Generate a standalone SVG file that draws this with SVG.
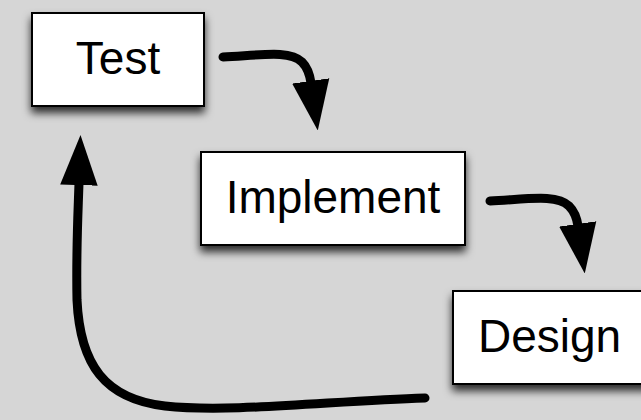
<svg xmlns="http://www.w3.org/2000/svg" width="641" height="420" viewBox="0 0 641 420">
  <style>
    .box { fill: #ffffff; stroke: #000000; stroke-width: 2; filter: url(#shadow); }
    .label { font-family: "Liberation Sans", Arial, sans-serif; font-size: 46px; fill: #000000; }
    .conn { fill: none; stroke: #000000; stroke-width: 9; stroke-linecap: round; }
  </style>
  <defs>
    <filter id="shadow" x="-20%" y="-20%" width="140%" height="160%">
      <feDropShadow dx="0" dy="6" stdDeviation="4.5" flood-color="#000000" flood-opacity="0.8"/>
    </filter>
    <marker id="head" markerUnits="userSpaceOnUse" markerWidth="50" markerHeight="40" viewBox="0 -18 48 36" refX="2" refY="0" orient="auto">
      <path d="M0,-18 L48,0 L0,18 Z" fill="#000000"/>
    </marker>
  </defs>
  <rect width="641" height="420" fill="#d6d6d6"/>
  <g id="connectors">
    <path class="conn" marker-end="url(#head)" d="M223,57 C262,55 290,50 302,62 C308,68 310,76 311,83"/>
    <path class="conn" marker-end="url(#head)" d="M490,201 C529,199 557,194 569,206 C575,212 577,219 578,226"/>
    <path class="conn" marker-end="url(#head)" d="M425,398 C330,401 230,413 165,406 C105,399 80,365 77,300 C76,250 78,215 79,183"/>
  </g>
  <g id="test">
    <rect class="box" x="32" y="13" width="172" height="93"/>
    <text class="label" x="118" y="74" text-anchor="middle">Test</text>
  </g>
  <g id="implement">
    <rect class="box" x="201" y="152" width="264" height="93"/>
    <text class="label" x="333" y="213" text-anchor="middle">Implement</text>
  </g>
  <g id="design">
    <rect class="box" x="453" y="291" width="210" height="93"/>
    <text class="label" x="478" y="352">Design</text>
  </g>
</svg>
